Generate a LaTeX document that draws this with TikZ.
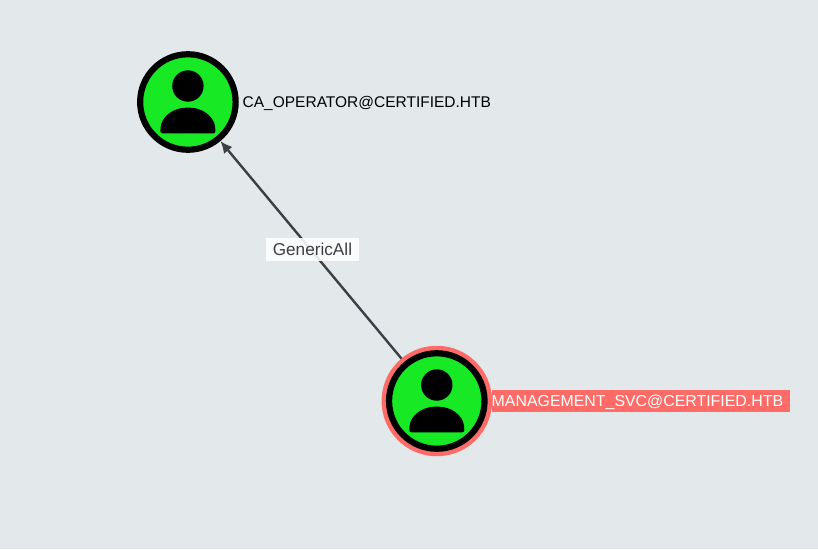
\documentclass[tikz,border=0pt]{standalone}
\usepackage{fontspec}
\setmainfont{Liberation Sans}
\usetikzlibrary{arrows.meta}
\definecolor{bgc}{HTML}{E3E8EB}
\definecolor{grn}{HTML}{17EA25}
\definecolor{redc}{HTML}{FF6B66}
\definecolor{edgec}{HTML}{3C3F44}
\tikzset{
  x=1pt,y=-1pt,
  usernode/.style={circle,draw=black,line width=6.2pt,fill=grn,minimum size=95.5pt,inner sep=0pt},
  ringnode/.style={circle,fill=redc,minimum size=110.5pt,inner sep=0pt,outer sep=0pt},
  conn/.style={draw=edgec,line width=2.4pt,-{Latex[length=12pt,width=11pt]},shorten >=0pt},
  edgelabel/.style={fill=white,fill opacity=.88,text opacity=1,text=edgec,font=\fontsize{17.2}{20}\selectfont,minimum width=93.6pt,minimum height=23pt,inner sep=0pt,xshift=1.5pt},
  namelabel/.style={inner sep=0pt,anchor=west},
  pin/.pic={
    \fill[black] (0,-16) circle[radius=15.7];
    \fill[black,rounded corners=2.2pt] (-27.5,31.3) -- (-27.5,27)
      .. controls (-26,14) and (-14,5.7) .. (0,5.7)
      .. controls (14,5.7) and (26,14) .. (27.5,27) -- (27.5,31.3) -- cycle;
  }
}
\begin{document}
\begin{tikzpicture}
\useasboundingbox (0,0) rectangle (818,549);
\fill[bgc] (0,0) rectangle (818,549);
\node[ringnode] (mring) at (436.8,401) {};
\node[usernode] (m) at (436.8,401) {};
\node[usernode] (c) at (187.9,102) {};
\draw[conn] (mring) -- (c) node[midway,edgelabel] (gen) {GenericAll};
\pic at (c.center) {pin};
\pic at (m.center) {pin};
\node[namelabel,font=\fontsize{15.5}{19}\selectfont] (clabel) at (242.5,103.5) {CA\_OPERATOR@CERTIFIED.HTB};
\node[fill=redc,minimum width=298.5pt,minimum height=22pt,inner sep=0pt,anchor=west] (mbox) at (491.5,401) {};
\node[namelabel,text=white,font=\fontsize{15.9}{19}\selectfont] (mlabel) at (491.5,402.5) {MANAGEMENT\_SVC@CERTIFIED.HTB};
\end{tikzpicture}
\end{document}
